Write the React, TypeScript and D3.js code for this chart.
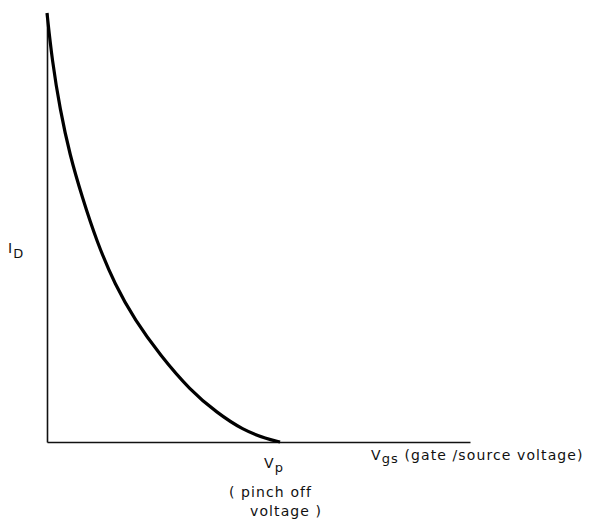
import React, { useEffect, useRef } from 'react';
import * as d3 from 'd3';

// points (arbitrary units, Vp ~ 5.5)
const vgs = [0, 0.12, 0.31, 0.54, 0.83, 1.18, 1.61, 2.08, 2.67, 3.38, 4.02, 4.63, 5.2, 5.51];
const id = [10, 8.9, 7.74, 6.69, 5.71, 4.66, 3.66, 2.84, 2.03, 1.21, 0.68, 0.28, 0.07, 0];

const width = 600;
const height = 521;
const margin = { top: 13, left: 47 };
const plotW = 423;
const plotH = 429;

const App = () => {
  const svgRef = useRef<SVGSVGElement>(null);

  useEffect(() => {
    const svg = d3.select(svgRef.current);
    svg.selectAll('*').remove();

    const x = d3.scaleLinear().domain([0, 10]).range([margin.left, margin.left + plotW]);
    const y = d3.scaleLinear().domain([0, 10]).range([margin.top + plotH, margin.top]);

    // axes: plain lines, no ticks
    svg.append('g')
      .attr('transform', `translate(0,${y(0)})`)
      .call(d3.axisBottom(x).ticks(0).tickSize(0).tickSizeOuter(0))
      .call(g => g.select('.domain').attr('stroke', '#111').attr('stroke-width', 1.6));

    svg.append('g')
      .attr('transform', `translate(${x(0)},0)`)
      .call(d3.axisLeft(y).ticks(0).tickSize(0).tickSizeOuter(0))
      .call(g => g.select('.domain').attr('stroke', '#111').attr('stroke-width', 1.6));

    const pts = vgs.map((v, i) => [v, id[i]] as [number, number]);
    const line = d3.line<[number, number]>()
      .x(d => x(d[0]))
      .y(d => y(d[1]))
      .curve(d3.curveBasis);

    svg.append('path')
      .datum(pts)
      .attr('d', line)
      .attr('fill', 'none')
      .attr('stroke', '#000')
      .attr('stroke-width', 3.2);

    const font = 'DejaVu Sans, sans-serif';
    const label = (tx: number, ty: number) =>
      svg.append('text')
        .attr('x', tx).attr('y', ty)
        .attr('font-family', font).attr('font-size', 14)
        .attr('letter-spacing', 1.1)
        .attr('fill', '#111');

    const idLabel = label(8, 253);
    idLabel.append('tspan').text('I');
    idLabel.append('tspan').attr('dy', 5).attr('font-size', 13).text('D');

    const vpLabel = label(264, 468);
    vpLabel.append('tspan').text('V');
    vpLabel.append('tspan').attr('dy', 4).attr('font-size', 13).text('p');

    label(229, 497).text('( pinch off');
    label(250, 516).text('voltage )');

    const vgsLabel = label(371, 460);
    vgsLabel.append('tspan').text('V');
    vgsLabel.append('tspan').attr('dy', 3).attr('font-size', 13).text('gs');
    vgsLabel.append('tspan').attr('dy', -3).text(' (gate /source voltage)');
  }, []);

  return (
    <svg
      ref={svgRef}
      width={width}
      height={height}
      style={{ position: 'absolute', left: 0, top: 0, background: '#fff' }}
    />
  );
};

export default App;
